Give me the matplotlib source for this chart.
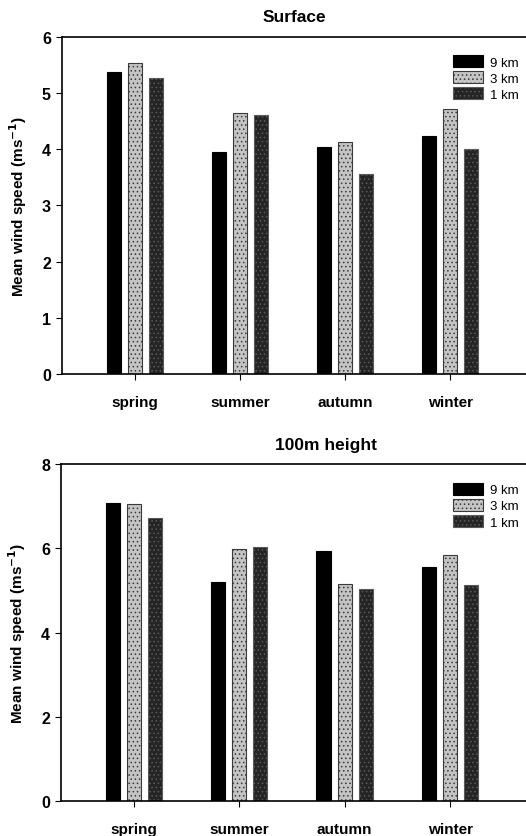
import matplotlib
matplotlib.use("Agg")
import matplotlib.pyplot as plt
import numpy as np

plt.rcParams['font.family'] = ['Liberation Sans', 'DejaVu Sans']
plt.rcParams['hatch.linewidth'] = 0.6

# === DATA ===
seasons = ["spring", "summer", "autumn", "winter"]
resolutions = ["9 km", "3 km", "1 km"]
surface_9km = [5.38, 3.94, 4.03, 4.24]
surface_3km = [5.53, 4.64, 4.12, 4.72]
surface_1km = [5.26, 4.60, 3.56, 4.00]
h100_9km = [7.09, 5.21, 5.95, 5.56]
h100_3km = [7.06, 5.98, 5.15, 5.84]
h100_1km = [6.73, 6.03, 5.03, 5.13]

styles = [
    dict(color="black", edgecolor="black"),
    dict(color="#c4c4c4", edgecolor="#3a3a3a", hatch="...."),
    dict(color="#252525", edgecolor="#5a5a5a", hatch="...."),
]


def draw_panel(ax, series, title, ymax, yticks, title_x=0.5):
    x = np.arange(len(seasons))
    offsets = [-0.2, 0.0, 0.2]
    for vals, off, lab, st in zip(series, offsets, resolutions, styles):
        ax.bar(x + off, vals, width=0.135, label=lab, linewidth=0.8, **st)
    ax.set_xlim(-0.69, 3.72)
    ax.set_ylim(0, ymax)
    ax.set_yticks(yticks)
    ax.set_xticks(x)
    ax.set_xticklabels(seasons, fontsize=11, fontweight="bold")
    for lbl in ax.get_yticklabels():
        lbl.set_fontweight("bold")
        lbl.set_fontsize(11.5)
    ax.tick_params(axis="x", direction="out", length=4, pad=11)
    ax.tick_params(axis="y", direction="out", length=4, pad=4)
    ax.spines["right"].set_visible(False)
    for s in ["left", "top", "bottom"]:
        ax.spines[s].set_linewidth(1.2)
    ax.set_ylabel("Mean wind speed (ms$^{\\mathbf{-1}}$)", fontsize=11,
                  fontweight="bold", labelpad=9)
    ax.set_title(title, fontsize=12.5, fontweight="bold", pad=11, x=title_x)
    ax.legend(loc="upper right", frameon=False, fontsize=9.5,
              handlelength=2.3, handleheight=1.0, labelspacing=0.2,
              handletextpad=0.5, borderaxespad=0.5, bbox_to_anchor=(1.01, 0.98))


fig = plt.figure(figsize=(5.26, 8.37), dpi=100)
ax1 = fig.add_axes([0.118, 0.552, 0.882, 0.403])
ax2 = fig.add_axes([0.116, 0.042, 0.884, 0.402])

draw_panel(ax1, [surface_9km, surface_3km, surface_1km], "Surface", 6,
           [0, 1, 2, 3, 4, 5, 6])
draw_panel(ax2, [h100_9km, h100_3km, h100_1km], "100m height", 8,
           [0, 2, 4, 6, 8], title_x=0.57)

fig.savefig("out.png", dpi=100)
